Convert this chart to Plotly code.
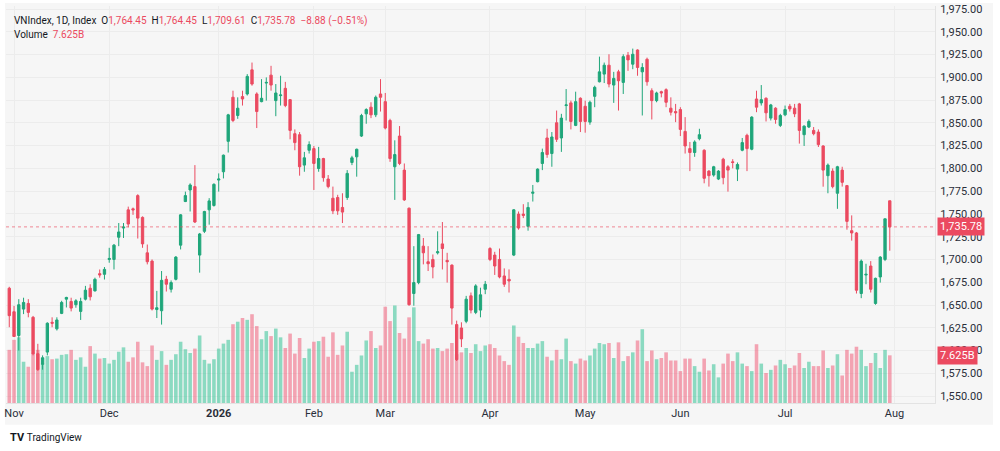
import pandas as pd
import plotly.graph_objects as go

# daily candles, VNIndex, 31 Oct 2025 - 31 Jul 2026
holidays = ["2026-01-01", "2026-01-02", "2026-02-16", "2026-02-17", "2026-02-18",
            "2026-02-19", "2026-02-20", "2026-04-27", "2026-04-30", "2026-05-01"]
days = pd.bdate_range("2025-10-31", "2026-07-31")
days = days[~days.isin(pd.to_datetime(holidays))] + pd.Timedelta(hours=12)

open_ = [1668.4, 1642.6, 1616.5, 1645.5, 1651.7, 1636.5, 1596.5, 1584.9, 1598.3, 1631.0,
         1623.8, 1640.8, 1656.4, 1653.9, 1650.3, 1643.0, 1656.4, 1668.4, 1665.5, 1684.4,
         1683.7, 1700.0, 1700.0, 1724.4, 1734.5, 1754.5, 1755.6, 1770.1, 1746.2, 1707.3,
         1698.2, 1645.0, 1643.7, 1678.2, 1667.3, 1678.2, 1715.7, 1763.6, 1776.3, 1780.0,
         1704.8, 1730.9, 1754.5, 1759.3, 1787.2, 1796.3, 1829.7, 1878.1, 1858.1, 1878.8,
         1881.7, 1908.2, 1881.7, 1873.3, 1893.7, 1902.4, 1874.4, 1879.9, 1887.9, 1875.5,
         1838.1, 1837.0, 1803.6, 1819.9, 1821.7, 1799.9, 1810.8, 1788.3, 1767.2, 1768.0,
         1757.1, 1768.0, 1806.5, 1812.7, 1835.5, 1859.9, 1867.2, 1858.8, 1881.7, 1873.3,
         1852.6, 1801.8, 1835.5, 1798.1, 1756.3, 1662.6, 1674.6, 1714.6, 1697.5, 1700.0,
         1707.3, 1717.1, 1699.0, 1693.8, 1628.5, 1624.8, 1632.1, 1660.1, 1641.9, 1644.4,
         1667.3, 1712.0, 1704.8, 1700.0, 1681.9, 1678.2, 1704.8, 1749.8, 1749.8, 1736.4,
         1772.7, 1785.4, 1805.4, 1833.4, 1816.3, 1850.1, 1833.4, 1869.0, 1871.9, 1847.2,
         1877.0, 1868.2, 1850.8, 1879.1, 1895.1, 1903.5, 1913.3, 1891.5, 1906.0, 1894.4,
         1924.2, 1914.4, 1930.0, 1906.0, 1919.8, 1885.3, 1874.4, 1884.2, 1886.4, 1866.1,
         1862.4, 1864.6, 1840.6, 1821.7, 1817.4, 1832.6, 1819.9, 1797.0, 1792.7, 1788.3,
         1810.1, 1801.8, 1807.2, 1799.2, 1819.9, 1836.3, 1821.0, 1876.2, 1871.9, 1877.0,
         1855.2, 1866.1, 1847.2, 1858.8, 1868.2, 1866.1, 1870.8, 1837.0, 1845.4, 1841.7,
         1839.9, 1824.6, 1792.0, 1797.0, 1772.7, 1798.1, 1781.1, 1731.6, 1729.1, 1662.6,
         1682.9, 1692.8, 1651.7, 1680.8, 1700.0, 1764.45]
high = [1670.0, 1649.0, 1656.4, 1658.0, 1656.4, 1638.0, 1607.4, 1594.7, 1631.0, 1636.5,
        1636.5, 1654.6, 1659.0, 1658.0, 1656.4, 1658.0, 1671.0, 1672.8, 1680.0, 1689.0,
        1691.7, 1712.8, 1717.0, 1740.0, 1740.0, 1758.0, 1757.0, 1771.6, 1747.3, 1716.4,
        1700.0, 1665.5, 1687.3, 1682.0, 1677.0, 1703.7, 1749.8, 1774.5, 1783.6, 1803.6,
        1729.1, 1753.4, 1767.3, 1783.6, 1794.5, 1815.2, 1859.9, 1885.3, 1878.0, 1885.3,
        1903.5, 1916.2, 1883.5, 1898.0, 1899.9, 1912.6, 1892.6, 1901.7, 1895.0, 1876.2,
        1842.8, 1839.9, 1818.1, 1829.7, 1824.6, 1823.6, 1811.6, 1792.7, 1780.0, 1771.0,
        1772.7, 1798.1, 1813.8, 1821.7, 1859.9, 1866.0, 1872.6, 1880.0, 1898.0, 1882.8,
        1854.5, 1830.8, 1846.5, 1805.4, 1757.0, 1714.6, 1728.0, 1723.6, 1714.6, 1705.5,
        1730.9, 1741.1, 1707.3, 1694.6, 1632.8, 1631.0, 1660.0, 1663.7, 1672.8, 1669.0,
        1676.4, 1713.5, 1708.4, 1712.0, 1690.2, 1689.1, 1755.3, 1752.7, 1760.7, 1762.9,
        1781.8, 1800.0, 1821.7, 1843.5, 1839.9, 1863.5, 1859.9, 1887.1, 1874.4, 1884.2,
        1878.0, 1874.4, 1874.4, 1890.8, 1922.7, 1916.2, 1925.3, 1906.0, 1908.2, 1925.3,
        1927.8, 1931.5, 1930.7, 1915.5, 1921.6, 1887.9, 1884.2, 1885.3, 1887.9, 1878.0,
        1870.8, 1867.2, 1856.3, 1829.0, 1830.8, 1843.5, 1821.0, 1798.1, 1802.8, 1798.1,
        1811.6, 1803.6, 1810.1, 1806.5, 1833.4, 1838.1, 1857.3, 1885.3, 1891.5, 1878.0,
        1870.8, 1867.2, 1859.9, 1869.0, 1870.8, 1870.8, 1871.9, 1847.2, 1853.7, 1845.4,
        1842.8, 1825.4, 1805.4, 1800.0, 1802.8, 1801.8, 1781.8, 1748.4, 1730.2, 1700.0,
        1695.3, 1698.2, 1680.0, 1703.7, 1744.7, 1764.45]
low = [1625.6, 1615.0, 1600.0, 1640.0, 1636.5, 1594.7, 1577.6, 1579.0, 1594.7, 1625.6,
       1622.0, 1640.0, 1647.3, 1643.0, 1647.0, 1633.6, 1655.0, 1655.0, 1664.8, 1680.0,
       1678.0, 1696.4, 1689.0, 1714.6, 1723.6, 1735.3, 1749.0, 1723.0, 1712.8, 1694.6,
       1644.0, 1635.7, 1628.5, 1664.8, 1663.7, 1677.0, 1711.0, 1763.0, 1752.7, 1740.0,
       1685.5, 1729.0, 1738.2, 1758.0, 1774.5, 1789.0, 1817.4, 1850.8, 1854.4, 1869.0,
       1880.0, 1890.8, 1844.3, 1872.6, 1874.4, 1885.3, 1857.3, 1869.0, 1867.2, 1831.9,
       1819.9, 1792.0, 1796.3, 1816.3, 1776.3, 1796.3, 1785.4, 1778.1, 1749.8, 1749.0,
       1740.0, 1765.4, 1803.6, 1790.9, 1834.5, 1849.0, 1855.2, 1856.3, 1862.4, 1842.8,
       1807.2, 1765.4, 1803.6, 1764.3, 1649.2, 1649.2, 1672.8, 1694.6, 1687.3, 1679.3,
       1705.5, 1689.0, 1674.6, 1628.5, 1588.5, 1603.8, 1630.0, 1640.8, 1640.0, 1636.5,
       1661.9, 1698.2, 1683.0, 1679.3, 1669.9, 1663.7, 1703.7, 1732.7, 1745.4, 1731.6,
       1763.6, 1784.7, 1798.1, 1811.6, 1801.8, 1829.0, 1818.1, 1852.6, 1842.8, 1846.4,
       1839.9, 1839.2, 1847.9, 1867.2, 1894.4, 1893.7, 1889.0, 1871.9, 1863.5, 1881.7,
       1907.1, 1908.9, 1901.7, 1858.1, 1890.8, 1853.7, 1872.6, 1878.0, 1867.2, 1858.1,
       1850.8, 1835.5, 1816.3, 1797.0, 1812.7, 1830.8, 1783.6, 1780.0, 1790.9, 1787.2,
       1782.5, 1774.5, 1800.0, 1786.1, 1818.8, 1797.0, 1819.9, 1861.7, 1869.0, 1851.5,
       1852.6, 1849.0, 1845.4, 1857.3, 1862.4, 1856.3, 1827.2, 1824.6, 1844.3, 1836.3,
       1823.5, 1779.9, 1772.7, 1778.1, 1755.6, 1780.0, 1732.7, 1720.7, 1662.6, 1657.5,
       1672.8, 1663.7, 1650.3, 1674.6, 1698.2, 1709.61]
close = [1638.3, 1615.4, 1650.3, 1652.8, 1641.9, 1596.5, 1579.1, 1592.1, 1630.0, 1630.0,
         1633.6, 1652.8, 1658.3, 1646.6, 1654.6, 1653.9, 1666.3, 1659.0, 1678.2, 1683.0,
         1689.1, 1701.1, 1715.7, 1730.2, 1735.6, 1738.9, 1754.5, 1745.4, 1717.1, 1697.5,
         1645.5, 1647.0, 1677.1, 1672.8, 1674.6, 1702.6, 1749.0, 1770.1, 1781.8, 1741.1,
         1728.0, 1752.7, 1764.3, 1782.5, 1788.3, 1814.5, 1858.8, 1852.6, 1866.1, 1876.2,
         1901.0, 1892.6, 1862.4, 1877.0, 1894.4, 1891.5, 1882.8, 1880.6, 1869.0, 1841.7,
         1828.3, 1801.8, 1811.6, 1826.1, 1805.4, 1810.8, 1789.8, 1780.0, 1753.4, 1753.4,
         1752.0, 1794.5, 1811.6, 1821.0, 1858.1, 1864.6, 1858.8, 1878.1, 1878.1, 1844.3,
         1810.8, 1815.2, 1805.4, 1765.4, 1650.3, 1674.6, 1727.3, 1707.3, 1695.3, 1691.7,
         1708.4, 1712.0, 1697.5, 1646.6, 1590.0, 1612.8, 1656.4, 1644.4, 1671.0, 1661.2,
         1672.8, 1700.0, 1692.8, 1680.8, 1672.8, 1676.4, 1754.5, 1734.5, 1748.4, 1757.1,
         1773.8, 1799.2, 1817.4, 1815.2, 1834.5, 1831.9, 1855.2, 1869.7, 1851.5, 1873.3,
         1851.5, 1851.5, 1872.6, 1889.0, 1906.0, 1913.3, 1892.6, 1898.8, 1896.2, 1922.7,
         1919.1, 1925.3, 1910.8, 1910.8, 1895.1, 1874.4, 1882.8, 1882.8, 1872.6, 1861.7,
         1861.0, 1842.8, 1824.6, 1817.4, 1829.0, 1837.0, 1789.1, 1792.0, 1801.8, 1797.0,
         1789.8, 1798.1, 1806.5, 1804.3, 1828.3, 1821.7, 1856.3, 1867.2, 1875.5, 1861.0,
         1869.7, 1853.7, 1858.1, 1864.6, 1865.3, 1859.9, 1841.7, 1846.4, 1851.5, 1838.1,
         1826.1, 1798.1, 1803.6, 1780.0, 1801.8, 1784.7, 1741.8, 1729.1, 1666.2, 1698.2,
         1683.7, 1667.3, 1679.3, 1702.6, 1744.66, 1735.78]
# volume, billions
volume = [8.5, 10.1, 10.5, 6.6, 5.8, 8.0, 8.5, 6.3, 7.5, 7.0,
          7.1, 7.7, 7.8, 8.5, 6.9, 7.3, 5.8, 9.1, 7.9, 7.1,
          7.2, 6.3, 6.9, 8.2, 8.9, 6.6, 7.3, 9.8, 6.5, 5.9,
          9.2, 6.9, 8.3, 6.1, 6.9, 7.8, 9.8, 8.6, 8.0, 8.7,
          10.8, 6.9, 6.3, 7.0, 8.7, 9.5, 10.1, 12.6, 13.0, 13.6,
          13.3, 14.2, 12.3, 10.2, 11.5, 10.7, 11.9, 10.5, 8.8, 11.1,
          7.9, 10.4, 7.2, 8.7, 9.8, 9.9, 10.6, 7.4, 11.3, 7.7,
          9.2, 11.4, 5.0, 6.1, 7.6, 10.0, 11.5, 8.8, 9.2, 15.4,
          13.1, 15.6, 11.2, 10.3, 13.7, 15.3, 9.9, 9.5, 10.2, 8.7,
          8.8, 8.3, 8.7, 9.6, 7.8, 8.1, 8.8, 8.0, 9.4, 8.3,
          9.2, 9.4, 8.8, 7.6, 6.7, 6.1, 12.4, 10.6, 9.6, 8.8,
          8.8, 9.5, 9.9, 7.4, 6.8, 8.5, 7.0, 10.3, 6.7, 6.3,
          7.1, 6.8, 7.6, 8.7, 9.6, 9.4, 9.6, 7.2, 9.7, 6.7,
          7.5, 8.1, 10.0, 11.8, 6.7, 8.4, 7.0, 7.2, 8.1, 6.8,
          6.8, 5.1, 7.1, 7.1, 5.9, 5.0, 7.1, 5.2, 6.2, 4.1,
          6.3, 7.9, 6.7, 8.1, 6.3, 5.9, 5.1, 9.4, 6.3, 4.8,
          5.3, 6.0, 6.9, 6.2, 5.6, 6.0, 8.0, 5.6, 6.6, 5.9,
          5.9, 8.4, 5.6, 6.0, 7.8, 4.4, 8.5, 7.9, 9.0, 8.5,
          5.9, 6.4, 8.0, 5.6, 8.5, 7.625]

tick_days = ["2025-11-03", "2025-12-01", "2026-01-05", "2026-02-02", "2026-03-02",
             "2026-04-01", "2026-05-04", "2026-06-01", "2026-07-01", "2026-08-03"]
tick_text = ["Nov", "Dec", "<b>2026</b>", "Feb", "Mar", "Apr", "May", "Jun", "Jul", "Aug"]

UP = "#1fa67a"
DOWN = "#eb4a60"
vol_colors = ["rgba(31,190,140,0.5)" if c >= o else "rgba(240,80,110,0.5)"
              for o, c in zip(open_, close)]

fig = go.Figure()
fig.add_trace(go.Bar(x=days, y=volume, marker_color=vol_colors, marker_line_width=0,
                     yaxis="y", hoverinfo="skip"))
fig.add_trace(go.Candlestick(x=days, open=open_, high=high, low=low, close=close,
                             yaxis="y2",
                             increasing=dict(line=dict(color=UP, width=1), fillcolor=UP),
                             decreasing=dict(line=dict(color=DOWN, width=1), fillcolor=DOWN)))

last = close[-1]
chg = last - close[-2]
red = DOWN
head = ("VNIndex, 1D, Index  "
        f"O<span style='color:{red}'>{open_[-1]:,.2f}</span>  "
        f"H<span style='color:{red}'>{high[-1]:,.2f}</span>  "
        f"L<span style='color:{red}'>{low[-1]:,.2f}</span>  "
        f"C<span style='color:{red}'>{last:,.2f}</span>  "
        f"<span style='color:{red}'>{chg:+.2f} ({chg / close[-2] * 100:+.2f}%)</span>")
head = head.replace("-", "\u2212")

fig.update_layout(
    width=1000, height=451,
    margin=dict(l=6, r=65, t=3, b=48),
    paper_bgcolor="white", plot_bgcolor="#f6f6f6",
    showlegend=False, bargap=0.25,
    font=dict(family="Roboto, Arial, sans-serif", size=11, color="#2a2e39"),
    xaxis=dict(type="date", range=["2025-10-30 19:30", "2026-08-14 00:00"],
               rangebreaks=[dict(bounds=["sat", "mon"]), dict(values=holidays)],
               tickvals=pd.to_datetime(tick_days) + pd.Timedelta(hours=12),
               ticktext=tick_text, ticks="", showgrid=True, gridcolor="#ececec",
               showline=True, linecolor="#e3e3e3", zeroline=False,
               rangeslider=dict(visible=False), tickfont=dict(size=11, color="#2a2e39")),
    yaxis=dict(range=[0, 63.5], visible=False, fixedrange=True),
    yaxis2=dict(overlaying="y", side="right", range=[1542.4, 1978.3],
                tick0=1550, dtick=25, tickformat=",.2f", ticks="",
                showgrid=True, gridcolor="#ececec", zeroline=False,
                showline=True, linecolor="#e3e3e3", ticklabelstandoff=2,
                ticklabeloverflow="allow",
                tickfont=dict(size=11, color="#2a2e39")),
    shapes=[
        dict(type="rect", xref="paper", yref="paper", x0=-0.001, x1=1.0624,
             y0=-0.055, y1=1.0075, fillcolor="#f6f6f6", line_width=0, layer="below"),
        dict(type="line", xref="paper", yref="y2", x0=0, x1=1, y0=last, y1=last,
             line=dict(color="rgba(235,74,96,0.65)", width=1, dash="dot")),
    ],
    annotations=[
        dict(xref="paper", yref="paper", x=0.0065, y=0.9625, xanchor="left",
             yanchor="middle", showarrow=False, text=head,
             font=dict(size=10, color="#131722")),
        dict(xref="paper", yref="paper", x=0.0065, y=0.9275, xanchor="left",
             yanchor="middle", showarrow=False,
             text=f"Volume  <span style='color:{red}'>{volume[-1]:.3f}B</span>",
             font=dict(size=10, color="#131722")),
        dict(xref="paper", yref="y2", x=1.002, y=last, xanchor="left", yanchor="middle",
             showarrow=False, text=f"{last:,.2f}", bgcolor=red, borderpad=2,
             font=dict(size=11, color="white")),
        dict(xref="paper", yref="y", x=1.002, y=volume[-1], xanchor="left",
             yanchor="middle", showarrow=False, text=f"{volume[-1]:.3f}B", bgcolor=red,
             borderpad=2, font=dict(size=11, color="white")),
        dict(xref="paper", yref="paper", x=0.002, y=-0.088, xanchor="left",
             yanchor="middle", showarrow=False,
             text="<b>TV</b> <span style='font-size:10px'>TradingView</span>",
             font=dict(size=11, color="#131722")),
    ],
)

# the page body has an 8px default margin; drop it so the figure sits at 0,0
fig.write_html("out.html", config={"displayModeBar": False},
               post_script="document.body.style.margin='0';")
